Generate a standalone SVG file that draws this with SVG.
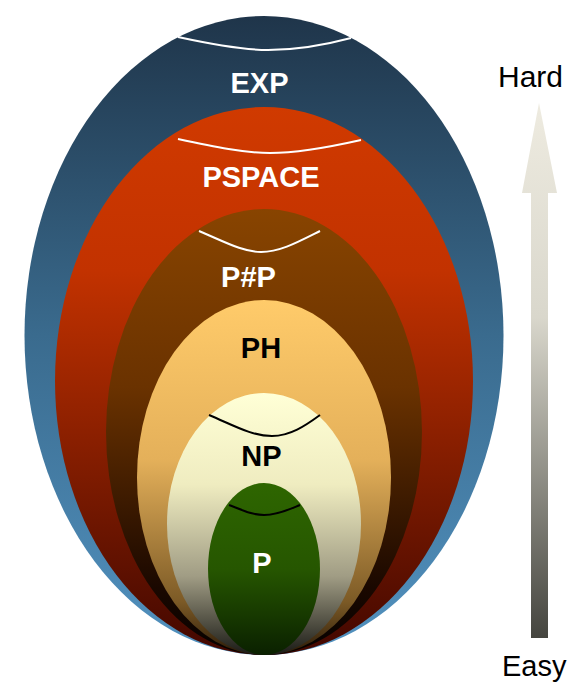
<svg xmlns="http://www.w3.org/2000/svg" width="571" height="683" viewBox="0 0 571 683">
<style>
.lbl{font-family:"Liberation Sans",Arial,sans-serif;font-weight:bold;font-size:29px;text-anchor:middle}
.w{fill:#ffffff}
.b{fill:#000000}
.arcw{fill:none;stroke:#ffffff;stroke-width:2}
.arcb{fill:none;stroke:#000000;stroke-width:2}
.scl{font-family:"Liberation Sans",Arial,sans-serif;font-size:30px;fill:#000000}
</style>
<defs>
<linearGradient id="gExp" x1="0" y1="0" x2="0" y2="1">
<stop offset="0" stop-color="#1f354a"/>
<stop offset="0.5" stop-color="#3a6b8e"/>
<stop offset="1" stop-color="#5292c0"/>
</linearGradient>
<linearGradient id="gPspace" x1="0" y1="0" x2="0" y2="1">
<stop offset="0" stop-color="#d03a00"/>
<stop offset="0.3" stop-color="#c23200"/>
<stop offset="1" stop-color="#420700"/>
</linearGradient>
<linearGradient id="gPsp" x1="0" y1="0" x2="0" y2="1">
<stop offset="0" stop-color="#884400"/>
<stop offset="0.4" stop-color="#6a3200"/>
<stop offset="0.85" stop-color="#1a0800"/>
<stop offset="1" stop-color="#050100"/>
</linearGradient>
<linearGradient id="gPh" x1="0" y1="0" x2="0" y2="1">
<stop offset="0" stop-color="#ffcb6a"/>
<stop offset="0.45" stop-color="#e4b05a"/>
<stop offset="0.85" stop-color="#7c5a26"/>
<stop offset="1" stop-color="#2a1a08"/>
</linearGradient>
<linearGradient id="gNp" x1="0" y1="0" x2="0" y2="1">
<stop offset="0" stop-color="#ffffd6"/>
<stop offset="0.35" stop-color="#efecc0"/>
<stop offset="0.7" stop-color="#a09c84"/>
<stop offset="1" stop-color="#1a1a16"/>
</linearGradient>
<linearGradient id="gP" x1="0" y1="0" x2="0" y2="1">
<stop offset="0" stop-color="#2e6600"/>
<stop offset="0.5" stop-color="#265600"/>
<stop offset="1" stop-color="#0a2000"/>
</linearGradient>
<linearGradient id="gArrow" x1="0" y1="0" x2="0" y2="1">
<stop offset="0" stop-color="#eeebe0"/>
<stop offset="0.4" stop-color="#d9d7cc"/>
<stop offset="1" stop-color="#45453f"/>
</linearGradient>
</defs>
<g id="EXP">
<ellipse cx="264" cy="335.5" rx="239.5" ry="319.5" fill="url(#gExp)"/>
<path class="arcw" d="M178,37 C215,45 245,50 268,50 C295,50 325,45 351,38"/>
<text class="lbl w" x="259.5" y="92.5">EXP</text>
</g>
<g id="PSPACE">
<ellipse cx="264" cy="381" rx="209" ry="274" fill="url(#gPspace)"/>
<path class="arcw" d="M178,139 C215,147 245,153 270,153 C300,153 330,147 361,140"/>
<text class="lbl w" x="261" y="186.5">PSPACE</text>
</g>
<g id="PSHARPP">
<ellipse cx="264" cy="432" rx="158" ry="223" fill="url(#gPsp)"/>
<path class="arcw" d="M199,231 C225,242 243,252 261,252 C280,252 298,242 320,231"/>
<text class="lbl w" x="248.5" y="287">P#P</text>
</g>
<g id="PH">
<ellipse cx="264" cy="477.5" rx="127" ry="177.5" fill="url(#gPh)"/>
<text class="lbl b" x="261" y="357.5">PH</text>
</g>
<g id="NP">
<ellipse cx="264" cy="524" rx="97" ry="131" fill="url(#gNp)"/>
<path class="arcb" d="M209,415 C235,426 252,436 272,436 C290,436 305,426 320,415"/>
<text class="lbl b" x="261.5" y="466">NP</text>
</g>
<g id="P">
<ellipse cx="264" cy="569" rx="56" ry="86" fill="url(#gP)"/>
<path class="arcb" d="M229,505 C242,510 252,515 264,515 C278,515 290,509 300,505"/>
<text class="lbl w" x="262" y="573">P</text>
</g>
<g id="connectors">
<g id="scale">
<path d="M539,103 L557,193 L548,193 L548,638 L531,638 L531,193 L522,193 Z" fill="url(#gArrow)"/>
<text class="scl" x="498" y="87">Hard</text>
<text class="scl" x="502" y="676" style="font-size:29px">Easy</text>
</g>
</g>
</svg>
